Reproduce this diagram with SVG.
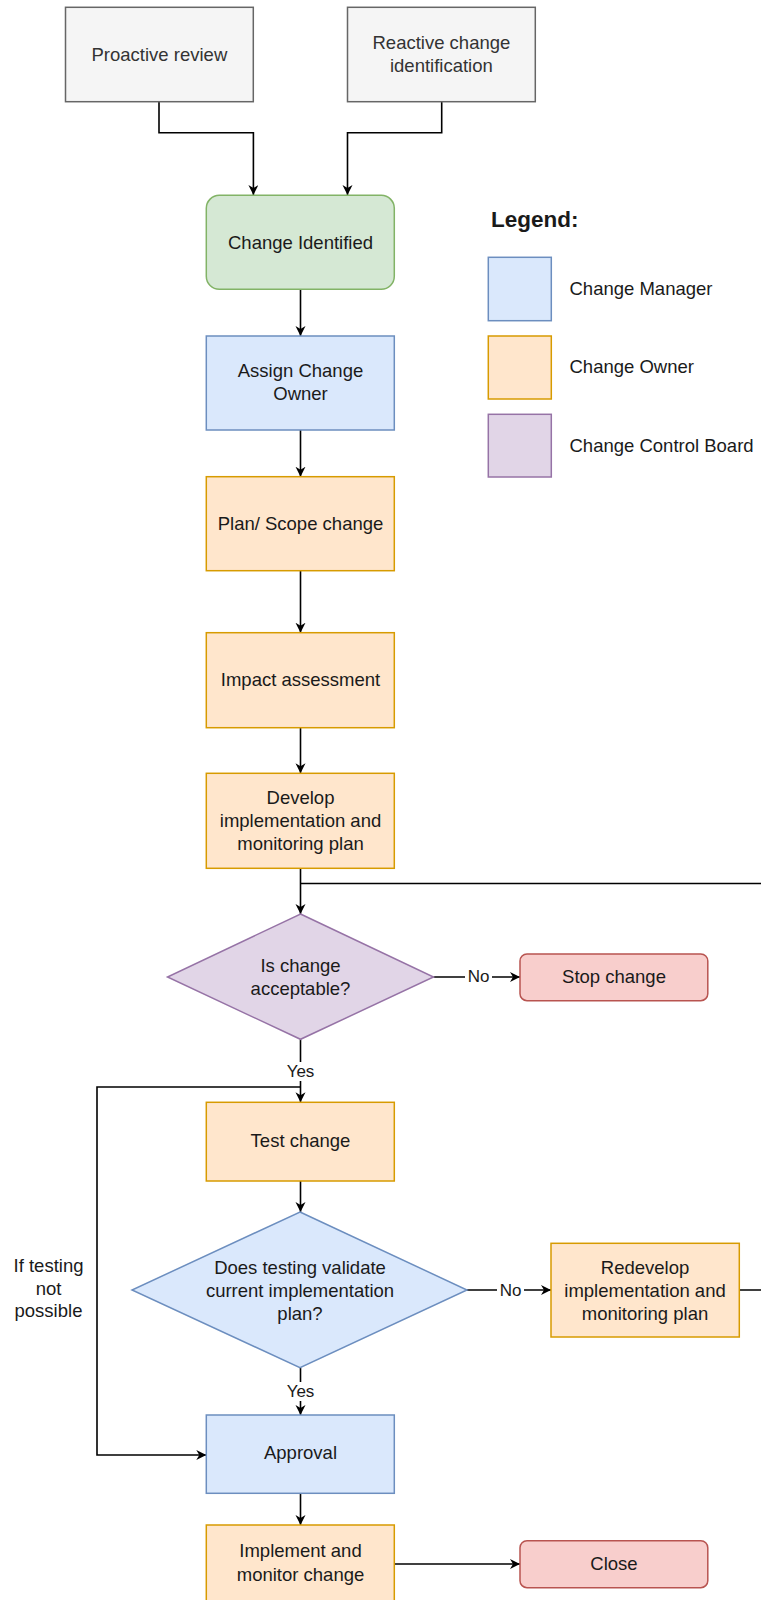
<svg xmlns="http://www.w3.org/2000/svg" width="761" height="1600" viewBox="0 0 761 1600">
<style>
text{font-family:"Liberation Sans",Arial,sans-serif;font-size:18.5px;fill:#1a1a1a;text-anchor:middle}
.gray{fill:#f5f5f5;stroke:#666666;stroke-width:1.5}
.green{fill:#d5e8d4;stroke:#82b366;stroke-width:1.5}
.blue{fill:#dae8fc;stroke:#6c8ebf;stroke-width:1.5}
.orange{fill:#ffe6cc;stroke:#d79b00;stroke-width:1.5}
.purple{fill:#e1d5e7;stroke:#9673a6;stroke-width:1.5}
.red{fill:#f8cecc;stroke:#b85450;stroke-width:1.5}
.edge{fill:none;stroke:#000;stroke-width:1.6}
.arr{marker-end:url(#ah)}
.lbl{font-size:17px}
.lt{text-anchor:start}
.gt{fill:#333333}
</style>
<defs>
<marker id="ah" markerUnits="userSpaceOnUse" markerWidth="12" markerHeight="12" refX="10" refY="5" orient="auto">
<path d="M0,0 L10,5 L0,10 L3,5 z" fill="#000"/>
</marker>
</defs>
<rect width="761" height="1600" fill="#ffffff"/>

<g id="connectors">
<path class="edge arr" d="M159,101.7 V132.7 H253.4 V195"/>
<path class="edge arr" d="M441.7,101.7 V132.7 H347.5 V195"/>
<path class="edge arr" d="M300.5,289.3 V336"/>
<path class="edge arr" d="M300.5,430 V476.7"/>
<path class="edge arr" d="M300.5,570.7 V632.7"/>
<path class="edge arr" d="M300.5,727.7 V773.3"/>
<path class="edge arr" d="M300.5,868.3 V914"/>
<path class="edge arr" d="M433.5,977 H520"/>
<path class="edge arr" d="M300.5,1039.3 V1102.3"/>
<path class="edge arr" d="M300.5,1181 V1212"/>
<path class="edge arr" d="M467,1290 H551"/>
<path class="edge arr" d="M300.5,1367.7 V1415"/>
<path class="edge arr" d="M300.5,1493.3 V1525"/>
<path class="edge arr" d="M394.6,1564 H520"/>
<path class="edge" d="M739.3,1290 H775 V883.5 H300.5"/>
<path class="edge arr" d="M300.5,1087 H97 V1455 H206.3"/>
<rect x="465" y="966" width="27" height="18" fill="#fff"/>
<text class="lbl" x="478.5" y="981.5">No</text>
<rect x="286" y="1062" width="29" height="19" fill="#fff"/>
<text class="lbl" x="300.5" y="1077">Yes</text>
<rect x="497" y="1280" width="27" height="18" fill="#fff"/>
<text class="lbl" x="510.5" y="1296">No</text>
<rect x="286" y="1382" width="29" height="19" fill="#fff"/>
<text class="lbl" x="300.5" y="1397">Yes</text>
</g>

<g id="proactive">
<rect class="gray" x="65.5" y="7.3" width="187.8" height="94.4"/>
<text class="gt" x="159.4" y="60.5">Proactive review</text>
</g>
<g id="reactive">
<rect class="gray" x="347.5" y="7.3" width="187.8" height="94.4"/>
<text class="gt" x="441.4" y="49">Reactive change</text>
<text class="gt" x="441.4" y="72">identification</text>
</g>
<g id="change-identified">
<rect class="green" x="206.3" y="195.3" width="188" height="94" rx="13" ry="13"/>
<text x="300.5" y="248.5">Change Identified</text>
</g>
<g id="assign">
<rect class="blue" x="206.3" y="336" width="188" height="94"/>
<text x="300.5" y="377">Assign Change</text>
<text x="300.5" y="400">Owner</text>
</g>
<g id="plan">
<rect class="orange" x="206.3" y="476.7" width="188" height="94"/>
<text x="300.5" y="529.5">Plan/ Scope change</text>
</g>
<g id="impact">
<rect class="orange" x="206.3" y="632.7" width="188" height="95"/>
<text x="300.5" y="686">Impact assessment</text>
</g>
<g id="develop">
<rect class="orange" x="206.3" y="773.3" width="188" height="95"/>
<text x="300.5" y="804">Develop</text>
<text x="300.5" y="827">implementation and</text>
<text x="300.5" y="850">monitoring plan</text>
</g>
<g id="acceptable">
<polygon class="purple" points="300.5,914 433.5,977 300.5,1039.3 167.5,977"/>
<text x="300.5" y="972">Is change</text>
<text x="300.5" y="995">acceptable?</text>
</g>
<g id="stop">
<rect class="red" x="520" y="954" width="187.8" height="46.7" rx="7" ry="7"/>
<text x="614" y="983">Stop change</text>
</g>
<g id="test">
<rect class="orange" x="206.3" y="1102.3" width="188" height="78.7"/>
<text x="300.5" y="1147">Test change</text>
</g>
<g id="validate">
<polygon class="blue" points="300,1212 467,1290 300,1367.7 132,1290"/>
<text x="300" y="1273.5">Does testing validate</text>
<text x="300" y="1297">current implementation</text>
<text x="300" y="1319.5">plan?</text>
</g>
<g id="redevelop">
<rect class="orange" x="551" y="1243.3" width="188.3" height="93.7"/>
<text x="645" y="1273.5">Redevelop</text>
<text x="645" y="1297">implementation and</text>
<text x="645" y="1319.5">monitoring plan</text>
</g>
<g id="not-possible-label">
<text x="48.5" y="1272">If testing</text>
<text x="48.5" y="1294.5">not</text>
<text x="48.5" y="1317">possible</text>
</g>
<g id="approval">
<rect class="blue" x="206.3" y="1415" width="188" height="78.3"/>
<text x="300.5" y="1459">Approval</text>
</g>
<g id="implement">
<rect class="orange" x="206.3" y="1525" width="188" height="79"/>
<text x="300.5" y="1557">Implement and</text>
<text x="300.5" y="1580.5">monitor change</text>
</g>
<g id="close">
<rect class="red" x="520" y="1540.7" width="187.8" height="47" rx="7" ry="7"/>
<text x="614" y="1569.5">Close</text>
</g>

<g id="legend">
<text class="lt" x="491" y="227" style="font-weight:bold;font-size:22.5px">Legend:</text>
<rect class="blue" x="488.3" y="257.3" width="63" height="63.4"/>
<text class="lt" x="569.5" y="295">Change Manager</text>
<rect class="orange" x="488.3" y="336" width="63" height="63"/>
<text class="lt" x="569.5" y="373.3">Change Owner</text>
<rect class="purple" x="488.3" y="414.3" width="63" height="62.7"/>
<text class="lt" x="569.5" y="451.7">Change Control Board</text>
</g>
</svg>
